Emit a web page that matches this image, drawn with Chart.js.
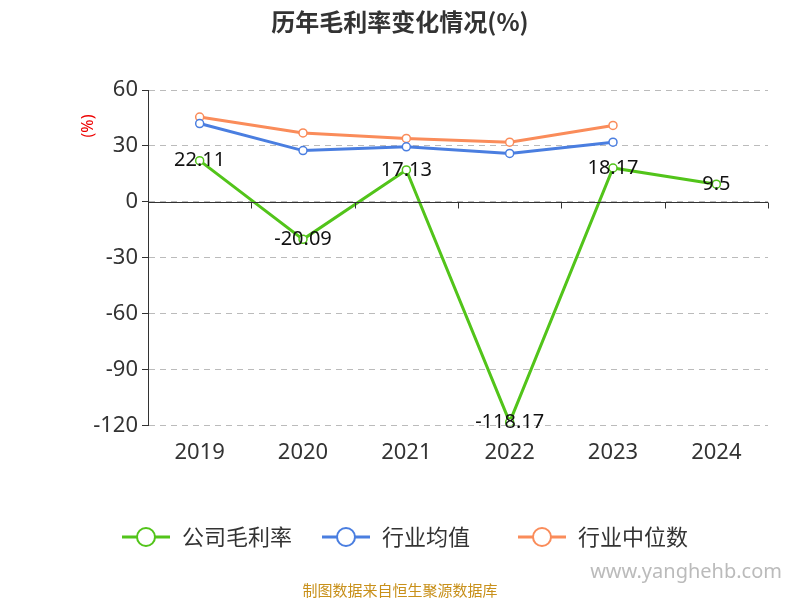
<!DOCTYPE html>
<html><head><meta charset="utf-8">
<script src="https://cdn.jsdelivr.net/npm/chart.js@4/dist/chart.umd.min.js"></script>
<style>html,body{margin:0;padding:0;background:#fff}#wrap{width:800px;height:600px}</style>
</head><body><div id="wrap"><canvas id="c" width="800" height="600"></canvas></div>
<script>
const categories = ['2019','2020','2021','2022','2023','2024'];
const companyMargin = [22.11, -20.09, 17.13, -118.17, 18.17, 9.5];
const industryMean = [42, 27.5, 29.5, 26, 32, null];
const industryMedian = [45.5, 37, 34, 32, 41, null];
const yTicks = [-120, -90, -60, -30, 0, 30, 60];
const FONT = "'Noto Sans', 'Noto Sans CJK SC', sans-serif";

const extras = {
  id: 'extras',
  afterDraw(chart) {
    const ctx = chart.ctx, a = chart.chartArea, y = chart.scales.y;
    ctx.save();
    ctx.fillStyle = '#333'; ctx.font = "bold 24px 'Noto Sans CJK SC', sans-serif";
    ctx.textAlign = 'center'; ctx.textBaseline = 'middle';
    ctx.fillText('历年毛利率变化情况(%)', 400, 22);
    ctx.save(); ctx.translate(88, 126); ctx.rotate(-Math.PI/2);
    ctx.fillStyle = '#e00'; ctx.font = "16px " + FONT; ctx.fillText('(%)', 0, 0); ctx.restore();
    const zy = Math.round(y.getPixelForValue(0)) + 0.5;
    ctx.strokeStyle = '#333'; ctx.lineWidth = 1; ctx.setLineDash([]);
    ctx.beginPath(); ctx.moveTo(a.left, zy); ctx.lineTo(a.right, zy); ctx.stroke();
    const step = (a.right - a.left) / categories.length;
    for (let i = 0; i <= categories.length; i++) {
      const px = Math.round(a.left + i * step) + 0.5;
      ctx.beginPath(); ctx.moveTo(px, zy); ctx.lineTo(px, zy + 6); ctx.stroke();
    }
    // redraw points over zero line
    ctx.fillStyle = '#111'; ctx.font = "20px " + FONT; ctx.textBaseline = 'middle';
    const meta = chart.getDatasetMeta(0);
    meta.data.forEach((p, i) => ctx.fillText(String(companyMargin[i]), p.x, p.y));
    // legend
    const lx = [122, 322, 518];
    chart.data.datasets.forEach((d, i) => {
      const x0 = lx[i], ly = 537;
      ctx.strokeStyle = d.borderColor; ctx.lineWidth = 3;
      ctx.beginPath(); ctx.moveTo(x0, ly); ctx.lineTo(x0 + 48, ly); ctx.stroke();
      ctx.fillStyle = '#fff'; ctx.lineWidth = 2;
      ctx.beginPath(); ctx.arc(x0 + 24, ly, 9, 0, Math.PI * 2); ctx.fill(); ctx.stroke();
      ctx.fillStyle = '#333'; ctx.font = "22px 'Noto Sans CJK SC', sans-serif"; ctx.textAlign = 'left';
      ctx.fillText(d.label, x0 + 60, ly);
    });
    ctx.textAlign = 'center';
    ctx.fillStyle = '#c8901a'; ctx.font = "15px 'Noto Sans CJK SC', sans-serif";
    ctx.fillText('制图数据来自恒生聚源数据库', 400, 590);
    ctx.fillStyle = '#bbb'; ctx.font = "20px " + FONT; ctx.textAlign = 'right';
    ctx.fillText('www.yanghehb.com', 782, 572);
    ctx.restore();
  }
};

new Chart(document.getElementById('c'), {
  type: 'line',
  data: {
    labels: categories,
    datasets: [
      {label: '公司毛利率', data: companyMargin, borderColor: '#52c41a', backgroundColor: '#fff', borderWidth: 3, pointRadius: 4, pointBorderWidth: 1.5, tension: 0},
      {label: '行业均值', data: industryMean, borderColor: '#4a7ee0', backgroundColor: '#fff', borderWidth: 3, pointRadius: 4, pointBorderWidth: 1.5, tension: 0},
      {label: '行业中位数', data: industryMedian, borderColor: '#fa8c5a', backgroundColor: '#fff', borderWidth: 3, pointRadius: 4, pointBorderWidth: 1.5, tension: 0}
    ]
  },
  options: {
    responsive: false, animation: false,
    layout: {padding: {top: 90, right: 32, bottom: 120, left: 0}},
    plugins: {title: {display: false}, tooltip: {enabled: false}, legend: {display: false}},
    scales: {
      x: {offset: true, grid: {display: false, drawTicks: false}, border: {display: false},
        ticks: {font: {size: 22, family: FONT}, color: '#333', padding: 14}},
      y: {min: -120, max: 60, afterFit(s) { s.width = 148; },
        afterBuildTicks(s) { s.ticks = yTicks.map(v => ({value: v})); },
        grid: {color: '#bbb', lineWidth: 1, tickLength: 6, tickColor: '#333', drawTicks: true},
        border: {display: true, color: '#333', dash: [6, 5]},
        ticks: {font: {size: 22, family: FONT}, color: '#333', padding: 4}}
    }
  },
  plugins: [extras]
});
</script></body></html>
